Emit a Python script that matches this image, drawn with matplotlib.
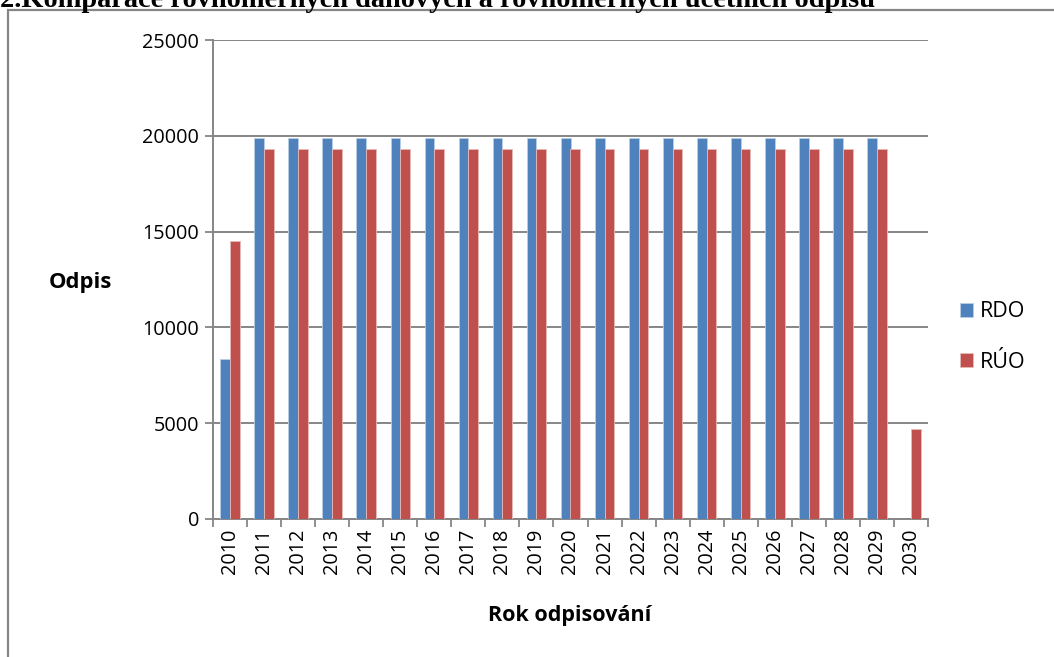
import numpy as np
import matplotlib
matplotlib.use("Agg")
import matplotlib.pyplot as plt
from matplotlib.patches import Rectangle

plt.rcParams["font.family"] = ["Open Sans", "DejaVu Sans"]

# roky a odpisy (Kč)
roky = ["2010", "2011", "2012", "2013", "2014", "2015", "2016", "2017", "2018", "2019",
        "2020", "2021", "2022", "2023", "2024", "2025", "2026", "2027", "2028", "2029", "2030"]
rdo = [8330, 19900, 19900, 19900, 19900, 19900, 19900, 19900, 19900, 19900,
       19900, 19900, 19900, 19900, 19900, 19900, 19900, 19900, 19900, 19900, np.nan]
ruo = [14500, 19330, 19330, 19330, 19330, 19330, 19330, 19330, 19330, 19330,
       19330, 19330, 19330, 19330, 19330, 19330, 19330, 19330, 19330, 19330, 4680]
yticks = [0, 5000, 10000, 15000, 20000, 25000]

BLUE = "#4f81bd"
RED = "#c0504d"
GRID = "#868686"

W, H = 1054, 657
fig = plt.figure(figsize=(W / 100, H / 100), dpi=100)

# rámeček grafu (přesahuje okraj obrázku)
fig.patches.append(Rectangle((8 / W, -0.1), 1.2, 1 - 10 / H + 0.1, transform=fig.transFigure,
                             fill=False, edgecolor=GRID, lw=1.6, clip_on=False))

fig.text(0.0, 1 - 7 / H, "2.Komparace rovnoměrných daňových a rovnoměrných účetních odpisů",
         family=["Liberation Serif", "DejaVu Serif"], weight="bold", fontsize=20.4,
         ha="left", va="baseline")

ax = fig.add_axes([213 / W, (H - 519) / H, 715 / W, 479 / H])
x = np.arange(len(roky))
w = 1 / 3.5
ax.bar(x - w / 2, rdo, w, color=BLUE, edgecolor="#b9cde5", lw=0.6, label="RDO", zorder=3)
ax.bar(x + w / 2, ruo, w, color=RED, edgecolor="#e6b9b8", lw=0.6, label="RÚO", zorder=3)

ax.set_xlim(-0.5, len(roky) - 0.5)
ax.set_ylim(0, 25000)
ax.set_yticks(yticks)
ax.set_yticklabels([str(v) for v in yticks], fontsize=14.3)
ax.set_xticks(x)
ax.set_xticklabels(roky, rotation=90, fontsize=14.3)
ax.set_xticks(np.arange(-0.5, len(roky)), minor=True)
ax.tick_params(axis="x", which="major", length=0, pad=7)
ax.tick_params(axis="x", which="minor", length=6, width=1.3, color=GRID, direction="out")
ax.tick_params(axis="y", length=6, width=1.3, color=GRID, direction="out", pad=4)

ax.grid(axis="y", color=GRID, lw=1.4, zorder=0)
for s in ["top", "right"]:
    ax.spines[s].set_visible(False)
for s in ["left", "bottom"]:
    ax.spines[s].set_color(GRID)
    ax.spines[s].set_linewidth(1.4)
ax.set_axisbelow(True)

fig.text(80 / W, 1 - 283 / H, "Odpis", weight="bold", fontsize=15.8, ha="center", va="center")
fig.text(570 / W, 1 - 615 / H, "Rok odpisování", weight="bold", fontsize=15.5,
         ha="center", va="center")

ax.legend(loc="center left", bbox_to_anchor=(941 / W, 1 - 337 / H),
          bbox_transform=fig.transFigure, frameon=False, fontsize=15.5,
          handlelength=0.6, handleheight=0.6, handletextpad=0.3, labelspacing=1.35)

fig.savefig("out.png", dpi=100)
